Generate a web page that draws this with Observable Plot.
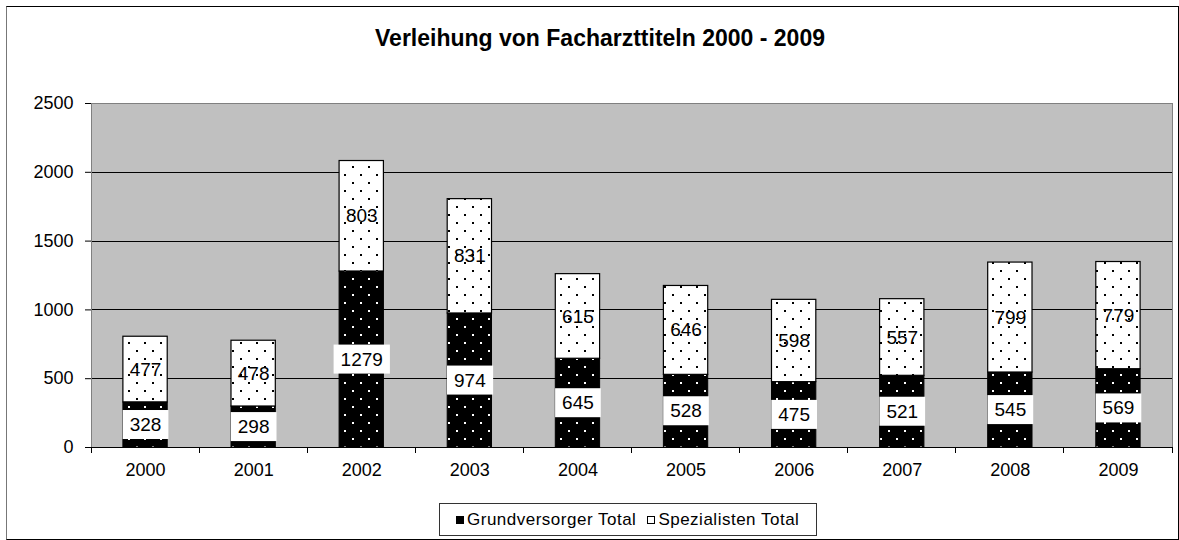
<!DOCTYPE html>
<html>
<head>
<meta charset="utf-8">
<script src="https://cdn.jsdelivr.net/npm/d3@7"></script>
<script src="https://cdn.jsdelivr.net/npm/@observablehq/plot@0.6"></script>
<style>
  body { margin: 0; background: #fff; font-family: "Liberation Sans", Arial, sans-serif; }
  #wrap { position: relative; width: 1179px; height: 540px; overflow: hidden; background: #fff; }
  #wrap svg { position: absolute; left: 0; top: 0; }
  #title { position: absolute; left: 0; width: 1200px; top: 25px; text-align: center; font-weight: bold; font-size: 23px; color: #000; white-space: nowrap; }
  #border { position: absolute; left: 6px; top: 6px; width: 1173px; height: 534px; box-sizing: border-box; border: 1px solid #000; border-left-color: #777; pointer-events: none; }
  #legend { position: absolute; left: 439px; top: 503px; width: 378px; height: 33px; box-sizing: border-box; border: 1px solid #333; display: flex; align-items: center; padding-left: 16px; font-size: 17px; letter-spacing: 0.5px; color: #000; white-space: nowrap; }
  .sw { display: inline-block; width: 8px; height: 8px; box-sizing: border-box; margin-right: 3px; margin-top: 1px; }
  .item { display: flex; align-items: center; margin-right: 11px; }
</style>
</head>
<body>
<div id="wrap">
  <div id="border"></div>
  <div id="title"></div>
  <div id="legend"></div>
</div>
<script>
// ---- data ----
const years = ["2000", "2001", "2002", "2003", "2004", "2005", "2006", "2007", "2008", "2009"];
const grundversorger = [328, 298, 1279, 974, 645, 528, 475, 521, 545, 569];
const spezialisten = [477, 478, 803, 831, 615, 646, 598, 557, 799, 779];
const yTicks = [0, 500, 1000, 1500, 2000, 2500];
const seriesNames = ["Grundversorger Total", "Spezialisten Total"];
const titleText = "Verleihung von Facharzttiteln 2000 - 2009";

const rows = years.map((year, i) => ({
  year,
  g: grundversorger[i],
  s: spezialisten[i],
  total: grundversorger[i] + spezialisten[i]
}));

// pattern definitions (rendered as a mark)
function patternDefs() {
  const ns = "http://www.w3.org/2000/svg";
  const defs = document.createElementNS(ns, "defs");
  defs.innerHTML = `
    <pattern id="darkDots" patternUnits="userSpaceOnUse" width="16" height="16">
      <rect width="16" height="16" fill="#000"/>
      <rect x="0" y="6" width="2" height="2" fill="#fff"/>
      <rect x="8" y="14" width="2" height="2" fill="#fff"/>
    </pattern>
    <pattern id="lightDots" patternUnits="userSpaceOnUse" width="16" height="16">
      <rect width="16" height="16" fill="#fff"/>
      <rect x="0" y="6" width="2" height="2" fill="#000"/>
      <rect x="8" y="14" width="2" height="2" fill="#000"/>
    </pattern>`;
  return defs;
}

// tick marks at category boundaries, computed from the band scale
function boundaryTicks(index, scales, values, dimensions) {
  const x = scales.x;
  const step = typeof x.step === "function" ? x.step() : scales.scales.x.step;
  const bw = typeof x.bandwidth === "function" ? x.bandwidth() : scales.scales.x.bandwidth;
  const off = (step - bw) / 2;
  const y0 = dimensions.height - dimensions.marginBottom;
  const xs = years.map(d => x(d) - off);
  xs.push(x(years[years.length - 1]) + bw + off);
  const g = d3.create("svg:g");
  g.selectAll("line").data(xs).join("line")
    .attr("x1", d => d).attr("x2", d => d)
    .attr("y1", y0).attr("y2", y0 + 6)
    .attr("stroke", "#000").attr("stroke-width", 1)
    .attr("shape-rendering", "crispEdges");
  return g.node();
}

const chart = Plot.plot({
  width: 1179,
  height: 540,
  marginLeft: 91,
  marginRight: 7,
  marginTop: 103,
  marginBottom: 93,
  style: { fontFamily: "'Liberation Sans', Arial, sans-serif", fontSize: "18px", background: "transparent", color: "#000" },
  x: { domain: years, paddingInner: 0.59, paddingOuter: 0.295, round: false, label: null },
  y: { domain: [0, 2500], label: null },
  marks: [
    patternDefs,
    Plot.frame({ fill: "#c0c0c0", stroke: null }),
    Plot.ruleY(yTicks.filter(t => t > 0 && t < 2500), { stroke: "#000", strokeWidth: 1, shapeRendering: "crispEdges" }),
    Plot.barY(rows, { x: "year", y1: 0, y2: "g", fill: "url(#darkDots)", stroke: "#000", strokeWidth: 1 }),
    Plot.barY(rows, { x: "year", y1: "g", y2: "total", fill: "url(#lightDots)", stroke: "#000", strokeWidth: 1.2 }),
    Plot.frame({ stroke: "#808080", strokeWidth: 1 }),
    Plot.ruleY([0], { stroke: "#000", strokeWidth: 1, shapeRendering: "crispEdges" }),
    Plot.ruleX([0], { frameAnchor: "left", stroke: "#555", strokeWidth: 1 }),
    Plot.axisY({ ticks: yTicks, tickSize: 6, tickPadding: 12, tickFormat: d3.format("d"), fontSize: 18, stroke: "#000" }),
    Plot.axisX({ tickSize: 0, tickPadding: 16, fontSize: 18 }),
    boundaryTicks,
    Plot.text(rows, { x: "year", y: d => d.g / 2, text: d => String(d.g), fontSize: 19, fill: "#000" }),
    Plot.text(rows, { x: "year", y: d => d.g + d.s / 2, text: d => String(d.s), fontSize: 19, fill: "#000" })
  ]
});

document.getElementById("wrap").insertBefore(chart, document.getElementById("border"));
document.getElementById("title").textContent = titleText;

// white background boxes behind Grundversorger labels (first text mark)
const grundTexts = new Set(grundversorger.map(String));
const textGroups = Array.from(chart.querySelectorAll("g")).filter(g =>
  Array.from(g.children).length === years.length &&
  Array.from(g.children).every(c => c.tagName.toLowerCase() === "text") &&
  Array.from(g.children).every(c => grundTexts.has(c.textContent))
);
if (textGroups.length) {
  Array.from(textGroups[0].children).forEach(t => {
    const bb = t.getBBox();
    const cy = bb.y + bb.height / 2;
    const r = document.createElementNS("http://www.w3.org/2000/svg", "rect");
    r.setAttribute("x", bb.x - 7);
    r.setAttribute("y", cy - 14.5);
    r.setAttribute("width", bb.width + 14);
    r.setAttribute("height", 29);
    r.setAttribute("fill", "#fff");
    const tr = t.getAttribute("transform");
    if (tr) r.setAttribute("transform", tr);
    t.parentNode.insertBefore(r, t);
  });
}

// legend
const legend = document.getElementById("legend");
const swatchStyles = ["background:#000;border:1px solid #000;", "background:#fff;border:1px solid #000;"];
seriesNames.forEach((name, i) => {
  const item = document.createElement("span");
  item.className = "item";
  const sw = document.createElement("span");
  sw.className = "sw";
  sw.style.cssText = swatchStyles[i];
  const label = document.createElement("span");
  label.textContent = name;
  item.appendChild(sw);
  item.appendChild(label);
  legend.appendChild(item);
});
</script>
</body>
</html>
